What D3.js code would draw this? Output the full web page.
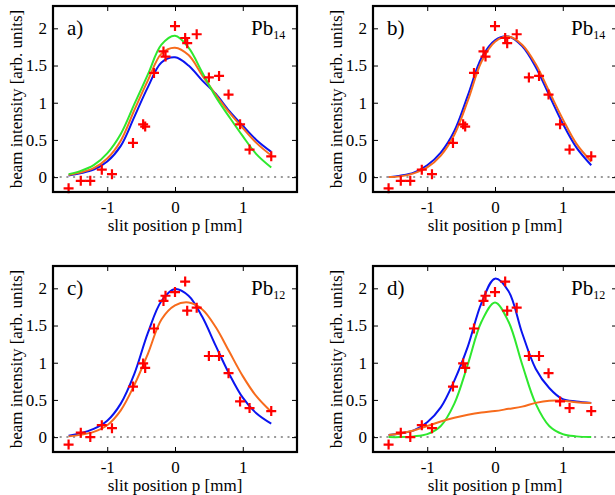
<!DOCTYPE html>
<html>
<head>
<meta charset="utf-8">
<script src="https://cdn.jsdelivr.net/npm/d3@7"></script>
<style>
  body { margin: 0; background: #fff; }
  svg { display: block; }
  text { font-family: "Liberation Serif", "Times New Roman", serif; fill: #000; }
</style>
</head>
<body>
<svg id="chart" width="615" height="495"></svg>
<script>
// Measured beam intensity versus slit position (mm)
const slitPos = [-1.57, -1.39, -1.25, -1.08, -0.93, -0.62, -0.47, -0.44, -0.31, -0.17, -0.14,
                 0.00, 0.15, 0.18, 0.32, 0.50, 0.65, 0.79, 0.96, 1.10, 1.42];
const intensityPb14 = [-0.15, -0.05, -0.05, 0.10, 0.04, 0.46, 0.71, 0.68, 1.40, 1.69, 1.62,
                       2.03, 1.87, 1.80, 1.92, 1.34, 1.36, 1.11, 0.71, 0.37, 0.28];
const intensityPb12 = [-0.10, 0.06, 0.00, 0.16, 0.12, 0.68, 0.99, 0.93, 1.46, 1.83, 1.90,
                       1.95, 2.09, 1.70, 1.74, 1.09, 1.09, 0.86, 0.48, 0.39, 0.35];

// Model curves sampled along the slit position
const fitPos = [-1.57, -1.4, -1.2, -1.0, -0.8, -0.6, -0.4, -0.2, 0, 0.2, 0.4, 0.6, 0.8, 1.0, 1.2, 1.42];
const fitA_blue   = [0.02, 0.05, 0.10, 0.21, 0.42, 0.81, 1.21, 1.54, 1.61, 1.50, 1.30, 1.12, 0.89, 0.69, 0.50, 0.34];
const fitA_orange = [0.03, 0.06, 0.12, 0.25, 0.49, 0.90, 1.30, 1.66, 1.74, 1.64, 1.37, 1.11, 0.87, 0.66, 0.46, 0.29];
const fitA_green  = [0.04, 0.08, 0.16, 0.32, 0.58, 0.98, 1.38, 1.78, 1.90, 1.74, 1.41, 1.08, 0.81, 0.55, 0.31, 0.13];
const fitB_blue   = [0.00, 0.02, 0.06, 0.16, 0.33, 0.62, 1.10, 1.60, 1.84, 1.89, 1.76, 1.48, 1.10, 0.72, 0.40, 0.16];
const fitB_orange = [0.00, 0.01, 0.05, 0.13, 0.29, 0.57, 1.03, 1.55, 1.82, 1.89, 1.78, 1.52, 1.15, 0.78, 0.45, 0.21];
const fitC_blue   = [0.02, 0.05, 0.11, 0.22, 0.45, 0.85, 1.40, 1.83, 1.99, 1.90, 1.62, 1.23, 0.85, 0.53, 0.32, 0.18];
const fitC_orange = [0.01, 0.03, 0.07, 0.16, 0.36, 0.70, 1.12, 1.58, 1.77, 1.81, 1.72, 1.48, 1.15, 0.82, 0.55, 0.34];
const fitD_blue   = [0.03, 0.05, 0.09, 0.20, 0.40, 0.76, 1.22, 1.80, 2.13, 1.96, 1.40, 0.92, 0.66, 0.51, 0.48, 0.46];
const fitD_green  = [0.00, 0.00, 0.01, 0.04, 0.15, 0.45, 0.98, 1.55, 1.81, 1.55, 0.98, 0.45, 0.15, 0.04, 0.01, 0.00];
const fitD_orange = [0.03, 0.05, 0.09, 0.15, 0.21, 0.26, 0.30, 0.33, 0.35, 0.38, 0.41, 0.46, 0.49, 0.49, 0.47, 0.46];

// Axis ticks and labels
const xTicks = [-1, 0, 1];
const xTickLabels = ["-1", "0", "1"];
const yTicks = [0, 0.5, 1, 1.5, 2];
const yTickLabels = ["0", "0.5", "1", "1.5", "2"];
const xDomain = [-1.8, 1.8];
const yDomain = [-0.2, 2.3];
const xTitle = "slit position p [mm]";
const yTitle = "beam intensity [arb. units]";
const panelLabels = ["a)", "b)", "c)", "d)"];
const ionSymbol = "Pb";
const ionCharges = ["14", "14", "12", "12"];

const COLORS = { blue: "#0a14f0", orange: "#f76b1c", green: "#2ee82e", red: "#ff0000" };

const panels = [
  { left: 53,  top: 6,   label: panelLabels[0], charge: ionCharges[0], points: intensityPb14,
    curves: [[fitA_blue, COLORS.blue], [fitA_orange, COLORS.orange], [fitA_green, COLORS.green]] },
  { left: 373, top: 6,   label: panelLabels[1], charge: ionCharges[1], points: intensityPb14,
    curves: [[fitB_blue, COLORS.blue], [fitB_orange, COLORS.orange]] },
  { left: 53,  top: 266, label: panelLabels[2], charge: ionCharges[2], points: intensityPb12,
    curves: [[fitC_blue, COLORS.blue], [fitC_orange, COLORS.orange]] },
  { left: 373, top: 266, label: panelLabels[3], charge: ionCharges[3], points: intensityPb12,
    curves: [[fitD_green, COLORS.green], [fitD_blue, COLORS.blue], [fitD_orange, COLORS.orange]] }
];

const W = 244, H = 186, TICK = 5;
const svg = d3.select("#chart");

panels.forEach(p => {
  const g = svg.append("g").attr("transform", `translate(${p.left},${p.top})`);
  const x = d3.scaleLinear().domain(xDomain).range([0, W]);
  const y = d3.scaleLinear().domain(yDomain).range([H, 0]);

  // zero reference line
  g.append("line")
    .attr("x1", x(xDomain[0])).attr("x2", x(xDomain[1]))
    .attr("y1", y(0)).attr("y2", y(0))
    .attr("stroke", "#999").attr("stroke-width", 2)
    .attr("stroke-dasharray", "2,4.7");

  // fit curves
  const line = d3.line()
    .x((d, i) => x(fitPos[i]))
    .y(d => y(d))
    .curve(d3.curveCatmullRom.alpha(0.5));
  p.curves.forEach(([vals, color]) => {
    g.append("path").datum(vals)
      .attr("d", line)
      .attr("fill", "none")
      .attr("stroke", color)
      .attr("stroke-width", 2)
      .attr("stroke-linejoin", "round");
  });

  // measured points as plus markers
  g.selectAll("path.pt").data(p.points).enter().append("path")
    .attr("class", "pt")
    .attr("transform", (d, i) => `translate(${x(slitPos[i])},${y(d)})`)
    .attr("d", "M-5,0H5M0,-5V5")
    .attr("stroke", COLORS.red)
    .attr("stroke-width", 2.2)
    .attr("fill", "none");

  // axes with inward ticks on all sides
  const axB = d3.axisBottom(x).tickValues(xTicks).tickSize(-TICK).tickSizeOuter(0)
    .tickFormat((d, i) => xTickLabels[i]);
  const axT = d3.axisTop(x).tickValues(xTicks).tickSize(-TICK).tickSizeOuter(0).tickFormat("");
  const axL = d3.axisLeft(y).tickValues(yTicks).tickSize(-TICK).tickSizeOuter(0)
    .tickFormat((d, i) => yTickLabels[i]);
  const axR = d3.axisRight(y).tickValues(yTicks).tickSize(-TICK).tickSizeOuter(0).tickFormat("");

  const gb = g.append("g").attr("transform", `translate(0,${H})`).call(axB);
  const gt = g.append("g").call(axT);
  const gl = g.append("g").call(axL);
  const gr = g.append("g").attr("transform", `translate(${W},0)`).call(axR);
  [gb, gt, gl, gr].forEach(a => {
    a.select(".domain").remove();
    a.selectAll(".tick line").attr("stroke", "#000").attr("stroke-width", 1);
    a.attr("font-family", null).attr("font-size", null);
  });
  gb.selectAll(".tick text").attr("y", 21).attr("dy", null)
    .style("font-size", "17px");
  gl.selectAll(".tick text").attr("x", -6).attr("dy", "0.32em")
    .style("font-size", "17px");

  // frame
  g.append("rect").attr("x", 0).attr("y", 0).attr("width", W).attr("height", H)
    .attr("fill", "none").attr("stroke", "#000").attr("stroke-width", 2.2);

  // titles
  g.append("text").attr("x", W / 2).attr("y", H + 39)
    .attr("text-anchor", "middle").style("font-size", "17px").text(xTitle);
  g.append("text")
    .attr("transform", `translate(-31,${H / 2}) rotate(-90)`)
    .attr("text-anchor", "middle").style("font-size", "17px").text(yTitle);

  // panel tag and ion species
  g.append("text").attr("x", 14).attr("y", 29).style("font-size", "21px").text(p.label);
  const ion = g.append("text").attr("x", 198).attr("y", 29).style("font-size", "21px");
  ion.append("tspan").text(ionSymbol);
  ion.append("tspan").attr("dy", 4).style("font-size", "12px").text(p.charge);
});
</script>
</body>
</html>
